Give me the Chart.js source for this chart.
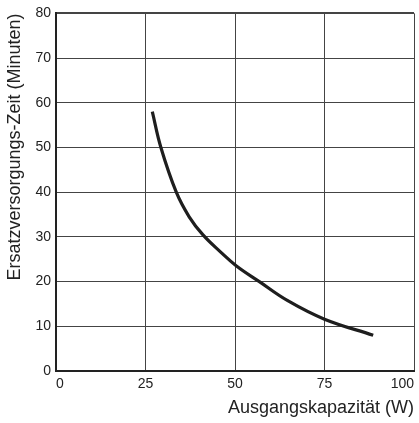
<!DOCTYPE html>
<html>
<head>
<meta charset="utf-8">
<script src="https://cdn.jsdelivr.net/npm/chart.js@4/dist/chart.umd.min.js"></script>
<style>
  html, body { margin: 0; padding: 0; background: #fff; }
  #wrap { width: 419px; height: 423px; }
</style>
</head>
<body>
<div id="wrap"><canvas id="myChart" width="419" height="423"></canvas></div>
<script>
// Ausgangskapazität (W) vs. Ersatzversorgungs-Zeit (Minuten)
const watts   = [26.9, 29.3, 33.6, 37.2, 41,   46,   50.4, 56.8, 64.6, 75,   88.6];
const minutes = [58,   50,   40,   34.5, 30.5, 26.6, 23.5, 20,   15.8, 11.6, 8];
const xTicks = [0, 25, 50, 75, 100];
const yTicks = [0, 10, 20, 30, 40, 50, 60, 70, 80];

const font = "'Liberation Sans', Arial, Helvetica, sans-serif";
const points = watts.map((w, i) => ({x: w, y: minutes[i]}));

new Chart(document.getElementById("myChart"), {
    type: "line",
    data: {
        datasets: [
            {
                label: "Zeit",
                data: points,
                borderColor: "#1e1e1e",
                borderWidth: 3.2,
                pointRadius: 0,
                fill: false,
                tension: 0.4
            }
        ]
    },
    options: {
        responsive: false,
        animation: false,
        layout: { padding: { top: 9, right: 1, left: 0, bottom: 0 } },
        plugins: { legend: { display: false }, tooltip: { enabled: false } },
        scales: {
            x: {
                type: "linear",
                min: 0,
                max: 100,
                afterBuildTicks: (s) => { s.ticks = xTicks.map(v => ({value: v})); },
                afterFit: (s) => { s.height = 52; },
                grid: { color: "#444", lineWidth: 1, drawTicks: false },
                border: { color: "#222", width: 2 },
                ticks: {
                    align: "inner",
                    padding: 5,
                    color: "#222",
                    font: { family: font, size: 14 }
                },
                title: {
                    display: true,
                    text: "Ausgangskapazität (W)",
                    align: "end",
                    color: "#222",
                    padding: { top: 4, bottom: 4 },
                    font: { family: font, size: 18 }
                }
            },
            y: {
                min: 0,
                max: 80,
                afterBuildTicks: (s) => { s.ticks = yTicks.map(v => ({value: v})); },
                afterFit: (s) => { s.width = 56; },
                grid: {
                    color: "#444",
                    lineWidth: (c) => (c.tick && c.tick.value === 80 ? 2 : 1),
                    drawTicks: false
                },
                border: { color: "#222", width: 2 },
                ticks: {
                    padding: 5,
                    color: "#222",
                    font: { family: font, size: 14 }
                },
                title: {
                    display: true,
                    text: "Ersatzversorgungs-Zeit (Minuten)",
                    align: "end",
                    color: "#222",
                    padding: { top: 4, bottom: 4 },
                    font: { family: font, size: 18 }
                }
            }
        }
    }
});
</script>
</body>
</html>
